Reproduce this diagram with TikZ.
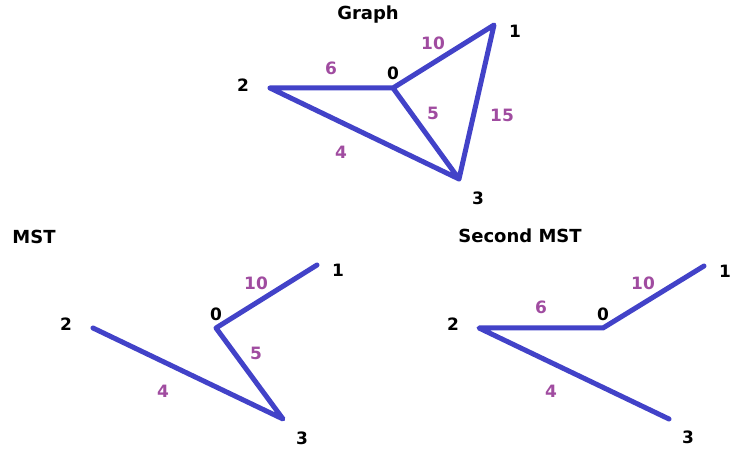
\documentclass[tikz,border=0pt]{standalone}
\usepackage{fontspec}
\setmainfont{DejaVu Sans}
\usepackage{xcolor}
\definecolor{edgeblue}{RGB}{66,66,200}
\definecolor{wtpurple}{RGB}{160,76,160}

\begin{document}
\begin{tikzpicture}[x=1pt, y=-1pt,
  vlab/.style={font=\fontsize{17}{19}\selectfont\bfseries, text=black, inner sep=0pt},
  wlab/.style={font=\fontsize{17}{19}\selectfont\bfseries, text=wtpurple, inner sep=0pt},
  ttl/.style={font=\fontsize{18}{20}\selectfont\bfseries, inner sep=0pt},
  edg/.style={draw=edgeblue, line width=5pt, line cap=round, line join=round}]
\useasboundingbox (0,0) rectangle (747,454);

% Graph
\node[ttl] (tg) at (368,15) {Graph};
\coordinate (g0) at (393,88);
\coordinate (g1) at (494,25);
\coordinate (g2) at (270,88);
\coordinate (g3) at (459,179);
\draw[edg] (g2) -- (g0) -- (g1) -- (g3) -- (g2) (g0) -- (g3);
\node[vlab] (lg0) at (393,73) {0};
\node[vlab] (lg1) at (515,31) {1};
\node[vlab] (lg2) at (243,85) {2};
\node[vlab] (lg3) at (478,198) {3};
\node[wlab] (wg10) at (433,43) {10};
\node[wlab] (wg6) at (331,68) {6};
\node[wlab] (wg5) at (433,113) {5};
\node[wlab] (wg15) at (502,115) {15};
\node[wlab] (wg4) at (341,152) {4};

% MST
\node[ttl] (tm) at (34,237) {MST};
\coordinate (m0) at (216,328);
\coordinate (m1) at (317,265);
\coordinate (m2) at (93,328);
\coordinate (m3) at (283,419);
\draw[edg] (m1) -- (m0) -- (m3) -- (m2);
\node[vlab] (lm0) at (216,314) {0};
\node[vlab] (lm1) at (338,270) {1};
\node[vlab] (lm2) at (66,324) {2};
\node[vlab] (lm3) at (302,438) {3};
\node[wlab] (wm10) at (256,283) {10};
\node[wlab] (wm5) at (256,353) {5};
\node[wlab] (wm4) at (163,391) {4};

% Second MST
\node[ttl] (ts) at (520,236) {Second MST};
\coordinate (s0) at (603,328);
\coordinate (s1) at (704,266);
\coordinate (s2) at (479,328);
\coordinate (s3) at (669,419);
\draw[edg] (s1) -- (s0) -- (s2) -- (s3);
\node[vlab] (ls0) at (603,314) {0};
\node[vlab] (ls1) at (725,271) {1};
\node[vlab] (ls2) at (453,324) {2};
\node[vlab] (ls3) at (688,437) {3};
\node[wlab] (ws6) at (541,307) {6};
\node[wlab] (ws10) at (643,283) {10};
\node[wlab] (ws4) at (551,391) {4};
\end{tikzpicture}
\end{document}
